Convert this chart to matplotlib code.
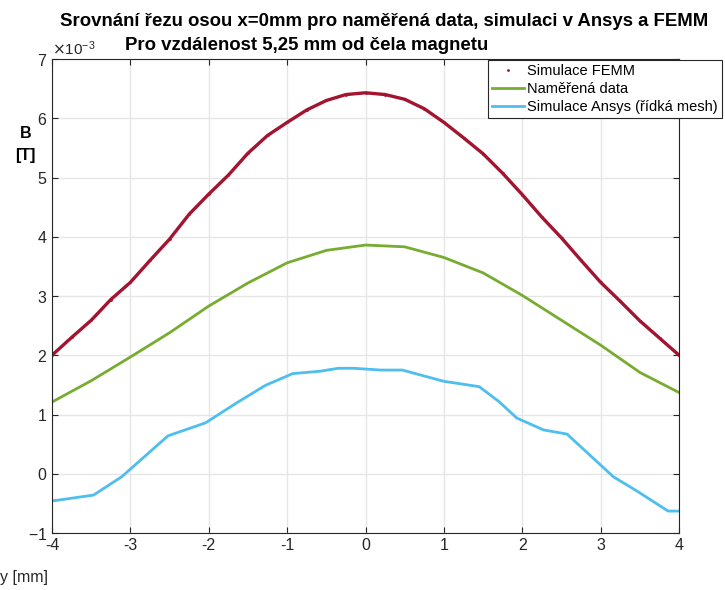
import numpy as np
import matplotlib
matplotlib.use('Agg')
import matplotlib.pyplot as plt
from matplotlib.ticker import ScalarFormatter

plt.rcParams['font.family'] = ['Liberation Sans', 'DejaVu Sans']
plt.rcParams['axes.unicode_minus'] = False

# FEMM simulation (B in mT)
y_femm = [-4.0, -3.75, -3.5, -3.25, -3.0, -2.75, -2.5, -2.25, -2.0, -1.75, -1.5,
          -1.25, -1.0, -0.75, -0.5, -0.25, 0.0, 0.25, 0.5, 0.75, 1.0, 1.25, 1.5,
          1.75, 2.0, 2.25, 2.5, 2.75, 3.0, 3.25, 3.5, 3.75, 4.0]
b_femm = [2.00, 2.30, 2.59, 2.94, 3.23, 3.60, 3.96, 4.38, 4.72, 5.04, 5.41,
          5.71, 5.93, 6.14, 6.30, 6.40, 6.43, 6.40, 6.32, 6.16, 5.93, 5.67, 5.40,
          5.07, 4.71, 4.33, 3.98, 3.60, 3.23, 2.91, 2.58, 2.29, 2.00]

# measured data
y_meas = [-4.0, -3.5, -3.0, -2.5, -2.0, -1.5, -1.0, -0.5, 0.0, 0.5, 1.0, 1.5,
          2.0, 2.5, 3.0, 3.5, 4.0]
b_meas = [1.21, 1.57, 1.97, 2.38, 2.83, 3.22, 3.56, 3.77, 3.86, 3.83, 3.65, 3.39,
          3.01, 2.59, 2.17, 1.71, 1.37]

# Ansys (coarse mesh)
y_ansys = [-4.0, -3.47, -3.11, -2.52, -2.04, -1.64, -1.28, -0.93, -0.58, -0.35,
           -0.15, 0.2, 0.47, 1.0, 1.45, 1.70, 1.93, 2.27, 2.57, 3.16, 3.46, 3.86, 4.0]
b_ansys = [-0.46, -0.36, -0.05, 0.64, 0.86, 1.20, 1.49, 1.69, 1.73, 1.78,
           1.78, 1.75, 1.75, 1.56, 1.47, 1.22, 0.94, 0.74, 0.67, -0.05, -0.29, -0.63, -0.63]

fig = plt.figure(figsize=(7.25, 5.9), dpi=100)
ax = fig.add_axes([0.0717, 0.0966, 0.865, 0.8034])

ax.plot(y_femm, np.array(b_femm) * 1e-3, '.-', color='#A2142F', lw=2.4, ms=2,
        label='Simulace FEMM')
ax.plot(y_meas, np.array(b_meas) * 1e-3, '-', color='#77AC30', lw=2.0,
        label='Naměřená data')
ax.plot(y_ansys, np.array(b_ansys) * 1e-3, '-', color='#4DBEEE', lw=2.0,
        label='Simulace Ansys (řídká mesh)')

ax.set_xlim(-4, 4)
ax.set_ylim(-1e-3, 7e-3)
ax.set_xticks(np.arange(-4, 5, 1))
ax.set_yticks(np.arange(-1e-3, 7.5e-3, 1e-3))
fmt = ScalarFormatter(useMathText=True)
fmt.set_powerlimits((-3, -3))
ax.yaxis.set_major_formatter(fmt)
ax.yaxis.get_offset_text().set_fontsize(11)
ax.yaxis.get_offset_text().set_color('#262626')

ax.grid(True, color='#e6e6e6', lw=1)
ax.set_axisbelow(True)
ax.tick_params(direction='in', top=True, right=True, labelsize=11.5,
               colors='#262626', length=4)
for s in ax.spines.values():
    s.set_color('#262626')
    s.set_linewidth(0.8)

fig.text(0.035, 0.755, 'B\n[T]', fontsize=11.5, fontweight='bold',
         ha='center', va='center', linespacing=1.6)
fig.text(0.0, 0.008, 'y [mm]', fontsize=11.5, color='#262626', ha='left', va='bottom')

fig.text(384 / 725, 1 - 22 / 590, 'Srovnání řezu osou x=0mm pro naměřená data, simulaci v Ansys a FEMM',
         fontsize=13.4, fontweight='bold', ha='center', va='center')
fig.text(125 / 725, 1 - 46 / 590, 'Pro vzdálenost 5,25 mm od čela magnetu',
         fontsize=13.4, fontweight='bold', ha='left', va='center')

leg = ax.legend(loc='upper right', bbox_to_anchor=(722 / 725, 1 - 60 / 590),
                bbox_transform=fig.transFigure, fontsize=10.5, fancybox=False,
                edgecolor='#262626', framealpha=1, borderaxespad=0,
                handlelength=2.2, handletextpad=0.2, labelspacing=0.25,
                borderpad=0.3)
leg.get_frame().set_linewidth(0.8)
leg.legend_handles[0].set_linestyle('none')

fig.savefig('out.png', dpi=100)
